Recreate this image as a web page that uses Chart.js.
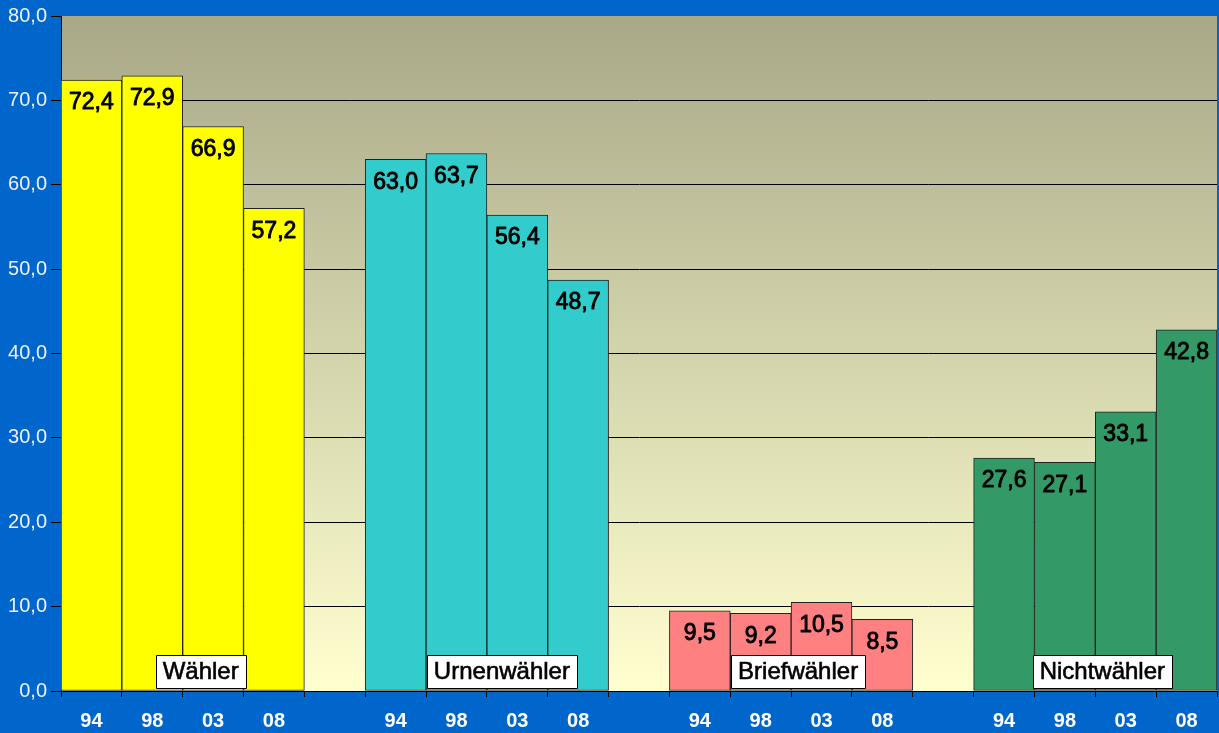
<!DOCTYPE html>
<html>
<head>
<meta charset="utf-8">
<script src="https://cdn.jsdelivr.net/npm/chart.js@4"></script>
<style>
  html, body { margin: 0; padding: 0; background: #0066CC; }
  #wrap { width: 1219px; height: 733px; }
</style>
</head>
<body>
<div id="wrap"><canvas id="chart" width="1219" height="733"></canvas></div>
<script>
const years = ['94', '98', '03', '08'];
const groupNames = ['Wähler', 'Urnenwähler', 'Briefwähler', 'Nichtwähler'];
const waehler = [72.4, 72.9, 66.9, 57.2];
const urnenwaehler = [63.0, 63.7, 56.4, 48.7];
const briefwaehler = [9.5, 9.2, 10.5, 8.5];
const nichtwaehler = [27.6, 27.1, 33.1, 42.8];
const groupColors = ['#FFFF00', '#33CCCC', '#FF8080', '#339966'];
const yTicks = [0, 10, 20, 30, 40, 50, 60, 70, 80];
// horizontal shift of each group's name box from the group centre (px)
const nameShift = [18, 15, 7, 7];

// flatten the groups into one category axis, with an empty slot between groups
const groups = [waehler, urnenwaehler, briefwaehler, nichtwaehler];
const labels = [];
const values = [];
const colors = [];
groups.forEach((g, gi) => {
  if (gi > 0) { labels.push(''); values.push(null); colors.push('transparent'); }
  g.forEach((v, i) => { labels.push(years[i]); values.push(v); colors.push(groupColors[gi]); });
});

const fmt = v => v.toFixed(1).replace('.', ',');
const FONT = '"Liberation Sans", Arial, sans-serif';

const bgPlugin = {
  id: 'plotBg',
  beforeDraw(chart) {
    const { ctx, chartArea: a } = chart;
    const grad = ctx.createLinearGradient(0, a.top, 0, a.bottom);
    grad.addColorStop(0, '#A8A888');
    grad.addColorStop(1, '#FFFFD0');
    ctx.save();
    ctx.fillStyle = grad;
    ctx.fillRect(a.left, a.top, a.right - a.left, a.bottom - a.top);
    ctx.restore();
  }
};

// semi-bold look: regular glyphs with a thin outline
function heavyText(ctx, text, x, y, stroke) {
  ctx.fillText(text, x, y);
  ctx.lineWidth = stroke;
  ctx.strokeStyle = '#000';
  ctx.strokeText(text, x, y);
}

const labelPlugin = {
  id: 'barLabels',
  afterDatasetsDraw(chart) {
    const { ctx } = chart;
    const meta = chart.getDatasetMeta(0);
    const xs = chart.scales.x;
    ctx.save();
    ctx.font = '23px ' + FONT;
    ctx.fillStyle = '#000';
    ctx.textAlign = 'center';
    ctx.textBaseline = 'middle';
    ctx.lineJoin = 'round';
    meta.data.forEach((bar, i) => {
      if (values[i] == null) return;
      heavyText(ctx, fmt(values[i]), bar.x, bar.y + 23, 0.9);
    });
    // group name boxes
    ctx.font = '24px ' + FONT;
    groupNames.forEach((name, gi) => {
      const start = gi * 5;
      const mid = (xs.getPixelForValue(start + 1) + xs.getPixelForValue(start + 2)) / 2 + nameShift[gi];
      const w = ctx.measureText(name).width + 14;
      const h = 33;
      const bottom = chart.chartArea.bottom - 3;
      const left = Math.round(mid - w / 2);
      ctx.fillStyle = '#FFFFFF';
      ctx.fillRect(left, bottom - h, Math.round(w), h);
      ctx.strokeStyle = '#000';
      ctx.lineWidth = 1;
      ctx.strokeRect(left + 0.5, Math.round(bottom - h) + 0.5, Math.round(w), h);
      ctx.fillStyle = '#000';
      heavyText(ctx, name, mid, bottom - h / 2 + 1, 0.6);
    });
    ctx.restore();
  }
};

new Chart(document.getElementById('chart'), {
  type: 'bar',
  data: {
    labels: labels,
    datasets: [{
      data: values,
      backgroundColor: colors,
      borderColor: '#222',
      borderWidth: 1,
      borderSkipped: false,
      categoryPercentage: 1,
      barPercentage: 1
    }]
  },
  options: {
    responsive: false,
    animation: false,
    layout: { padding: { top: 15, right: 2, left: 0, bottom: 0 } },
    plugins: { legend: { display: false }, tooltip: { enabled: false } },
    scales: {
      x: {
        grid: { offset: true, drawOnChartArea: false, color: '#000', tickLength: 6 },
        border: { color: '#000' },
        ticks: { color: '#FFFFFF', font: { family: FONT, size: 20, weight: 'bold' }, padding: 12, maxRotation: 0, autoSkip: false },
        afterFit(scale) { scale.height = 42; }
      },
      y: {
        min: 0,
        max: 80,
        afterBuildTicks(scale) { scale.ticks = yTicks.map(v => ({ value: v })); },
        grid: {
          color: ctx => ctx.tick && ctx.tick.value === 80 ? 'rgba(0,0,0,0)' : '#000',
          tickColor: '#000',
          tickLength: 10
        },
        border: { color: '#000' },
        ticks: {
          color: '#EEF2FA',
          font: { family: FONT, size: 20 },
          padding: 4,
          callback: v => fmt(v)
        },
        afterFit(scale) { scale.width = 61; }
      }
    }
  },
  plugins: [bgPlugin, labelPlugin]
});
</script>
</body>
</html>
